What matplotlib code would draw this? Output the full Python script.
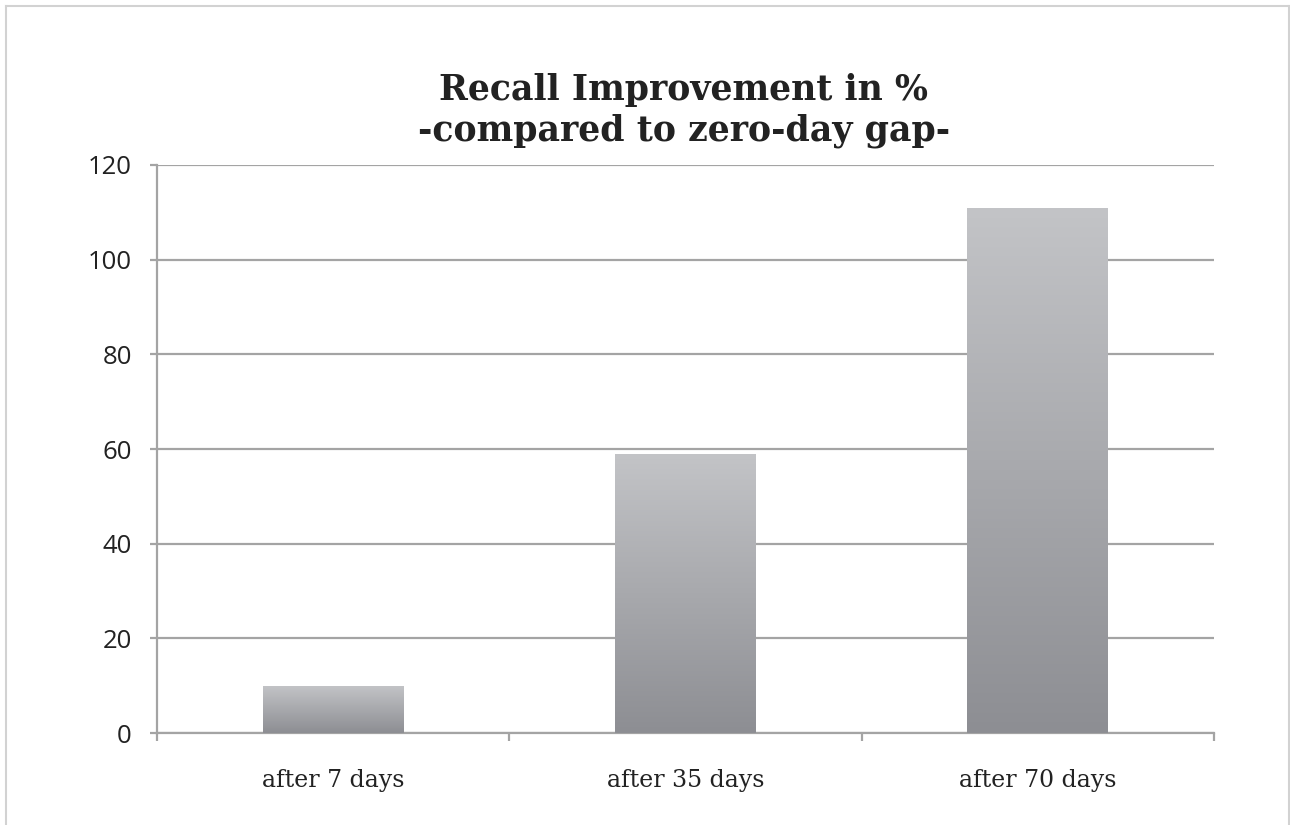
import numpy as np
import matplotlib.pyplot as plt
from matplotlib.colors import LinearSegmentedColormap
from matplotlib.lines import Line2D

# data
categories = ["after 7 days", "after 35 days", "after 70 days"]
values = [10, 59, 111]
yticks = [0, 20, 40, 60, 80, 100, 120]

title = "Recall Improvement in %\n-compared to zero-day gap-"

fig = plt.figure(figsize=(12.9, 8.25), dpi=100)
ax = fig.add_axes([0.1217, 0.1115, 0.8194, 0.6885])

# outer frame of the picture
frame_col = "#d2d2d2"
fig.add_artist(Line2D([6/1290, 6/1290], [0, 1 - 6/825], transform=fig.transFigure, color=frame_col, lw=1.5))
fig.add_artist(Line2D([6/1290, 1289/1290], [1 - 6/825, 1 - 6/825], transform=fig.transFigure, color=frame_col, lw=1.5))
fig.add_artist(Line2D([1289/1290, 1289/1290], [0, 1 - 6/825], transform=fig.transFigure, color=frame_col, lw=1.5))

grid_col = "#a4a4a4"
x = np.arange(len(categories))
bars = ax.bar(x, values, width=0.4, color="none", zorder=3)

# vertical gradient, light on top, darker at the bottom
cmap = LinearSegmentedColormap.from_list("g", ["#8d8e93", "#c3c4c7"])
grad = np.linspace(0, 1, 256).reshape(-1, 1)
for b in bars:
    x0, w, h = b.get_x(), b.get_width(), b.get_height()
    im = ax.imshow(grad, cmap=cmap, origin="lower", aspect="auto",
                   extent=[x0, x0 + w, 0, h], zorder=3)
    im.set_clip_path(b)

ax.set_xlim(-0.5, 2.5)
ax.set_ylim(0, 120)
ax.set_yticks(yticks)
ax.set_yticklabels([str(t) for t in yticks], fontfamily="Open Sans", fontsize=18.5, color="#222222")
ax.yaxis.grid(True, color=grid_col, lw=1.6, zorder=1)
ax.set_axisbelow(True)

# category ticks sit between the bars
ax.set_xticks([-0.5, 0.5, 1.5, 2.5])
ax.set_xticklabels([])
ax.set_xticks(x, minor=True)
ax.set_xticklabels(categories, minor=True, fontfamily="DejaVu Serif", fontsize=17, color="#222222")
ax.tick_params(axis="x", which="minor", length=0, pad=26)
ax.tick_params(axis="x", which="major", length=5.5, width=1.6, color=grid_col)
ax.tick_params(axis="y", length=5, width=1.6, color=grid_col, pad=13)

for s in ["top", "right"]:
    ax.spines[s].set_visible(False)
ax.spines["left"].set_color(grid_col)
ax.spines["left"].set_linewidth(1.6)
ax.spines["bottom"].set_color(grid_col)
ax.spines["bottom"].set_linewidth(1.6)

fig.text(0.53, 0.866, title, ha="center", va="center", fontfamily="DejaVu Serif",
         fontweight="bold", fontsize=25, color="#222222", linespacing=1.25)

fig.savefig("out.png", dpi=100)
